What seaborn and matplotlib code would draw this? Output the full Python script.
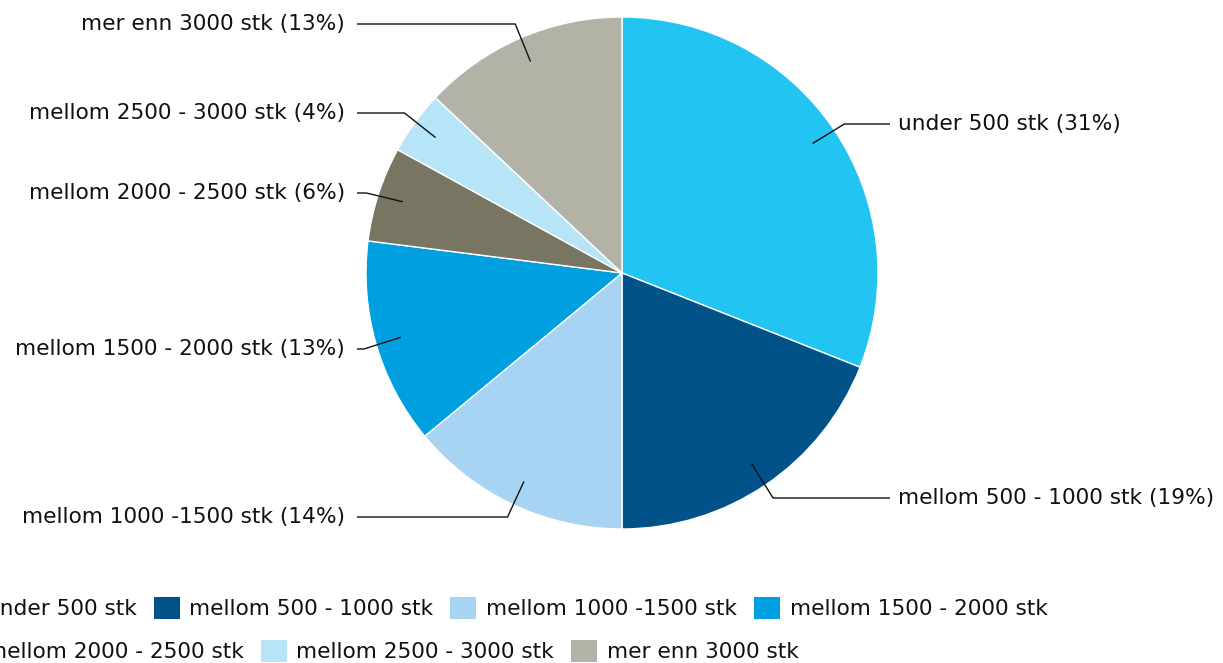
import numpy as np
import matplotlib
matplotlib.use("Agg")
import matplotlib.pyplot as plt
import seaborn as sns

categories = [
    "under 500 stk",
    "mellom 500 - 1000 stk",
    "mellom 1000 -1500 stk",
    "mellom 1500 - 2000 stk",
    "mellom 2000 - 2500 stk",
    "mellom 2500 - 3000 stk",
    "mer enn 3000 stk",
]
shares = [31, 19, 14, 13, 6, 4, 13]
colors = ["#22C4F2", "#005288", "#A8D4F4", "#009FE0", "#787662", "#B8E4F8", "#B2B3A6"]

# vertical positions (pixels from top) chosen for the data labels
label_rows_px = [124, 498, 517, 349, 193, 113, 24]

sns.set_theme(style="white")
plt.rcParams["font.family"] = ["DejaVu Sans"]

W, H, DPI = 1223, 663, 100
fig = plt.figure(figsize=(W / DPI, H / DPI), dpi=DPI)
ax = fig.add_axes([0, 0, 1, 1])

cx, cy, R = 622, 273, 256  # pie centre and radius in pixels

wedges, _ = ax.pie(
    shares,
    colors=sns.color_palette(colors),
    startangle=90,
    counterclock=False,
    radius=1.0,
    center=(0, 0),
    wedgeprops=dict(edgecolor="white", linewidth=1.0),
)
ax.set_xlim(-cx / R, (W - cx) / R)
ax.set_ylim(-(H - cy) / R, cy / R)
ax.set_aspect("equal")
ax.axis("off")

fs = 15.6
for w, cat, val, ly_px in zip(wedges, categories, shares, label_rows_px):
    mid = np.deg2rad((w.theta1 + w.theta2) / 2)
    dx, dy = np.cos(mid), np.sin(mid)
    ly = (cy - ly_px) / R
    inner = (0.9 * dx, 0.9 * dy)
    elbow = (1.05 * dx, ly)
    if dx >= 0:
        end_x = (890 - cx) / R
        tx = (898 - cx) / R
        ha = "left"
    else:
        end_x = (357 - cx) / R
        tx = (345 - cx) / R
        ha = "right"
    ax.plot([inner[0], elbow[0], end_x], [inner[1], elbow[1], ly],
            color="#111111", lw=1.0, solid_capstyle="butt")
    ax.text(tx, ly, f"{cat} ({val}%)", ha=ha, va="center",
            fontsize=fs, color="#111111")

# legend laid out in two rows, flowing left to right
leg_kw = dict(
    frameon=False,
    fontsize=fs,
    handlelength=1.2,
    handleheight=1.2,
    handletextpad=0.45,
    columnspacing=0.78,
    borderpad=0,
    borderaxespad=0,
    loc="center left",
)
row1 = fig.legend(wedges[:4], categories[:4], ncol=4,
                  bbox_to_anchor=(-50 / W, 1 - 608 / H), **leg_kw)
row2 = fig.legend(wedges[4:], categories[4:], ncol=3,
                  bbox_to_anchor=(-50 / W, 1 - 651 / H), **leg_kw)
for lg in (row1, row2):
    for t in lg.get_texts():
        t.set_color("#111111")
    for h in lg.legend_handles:
        h.set_edgecolor("none")

fig.savefig("out.png", dpi=DPI)
